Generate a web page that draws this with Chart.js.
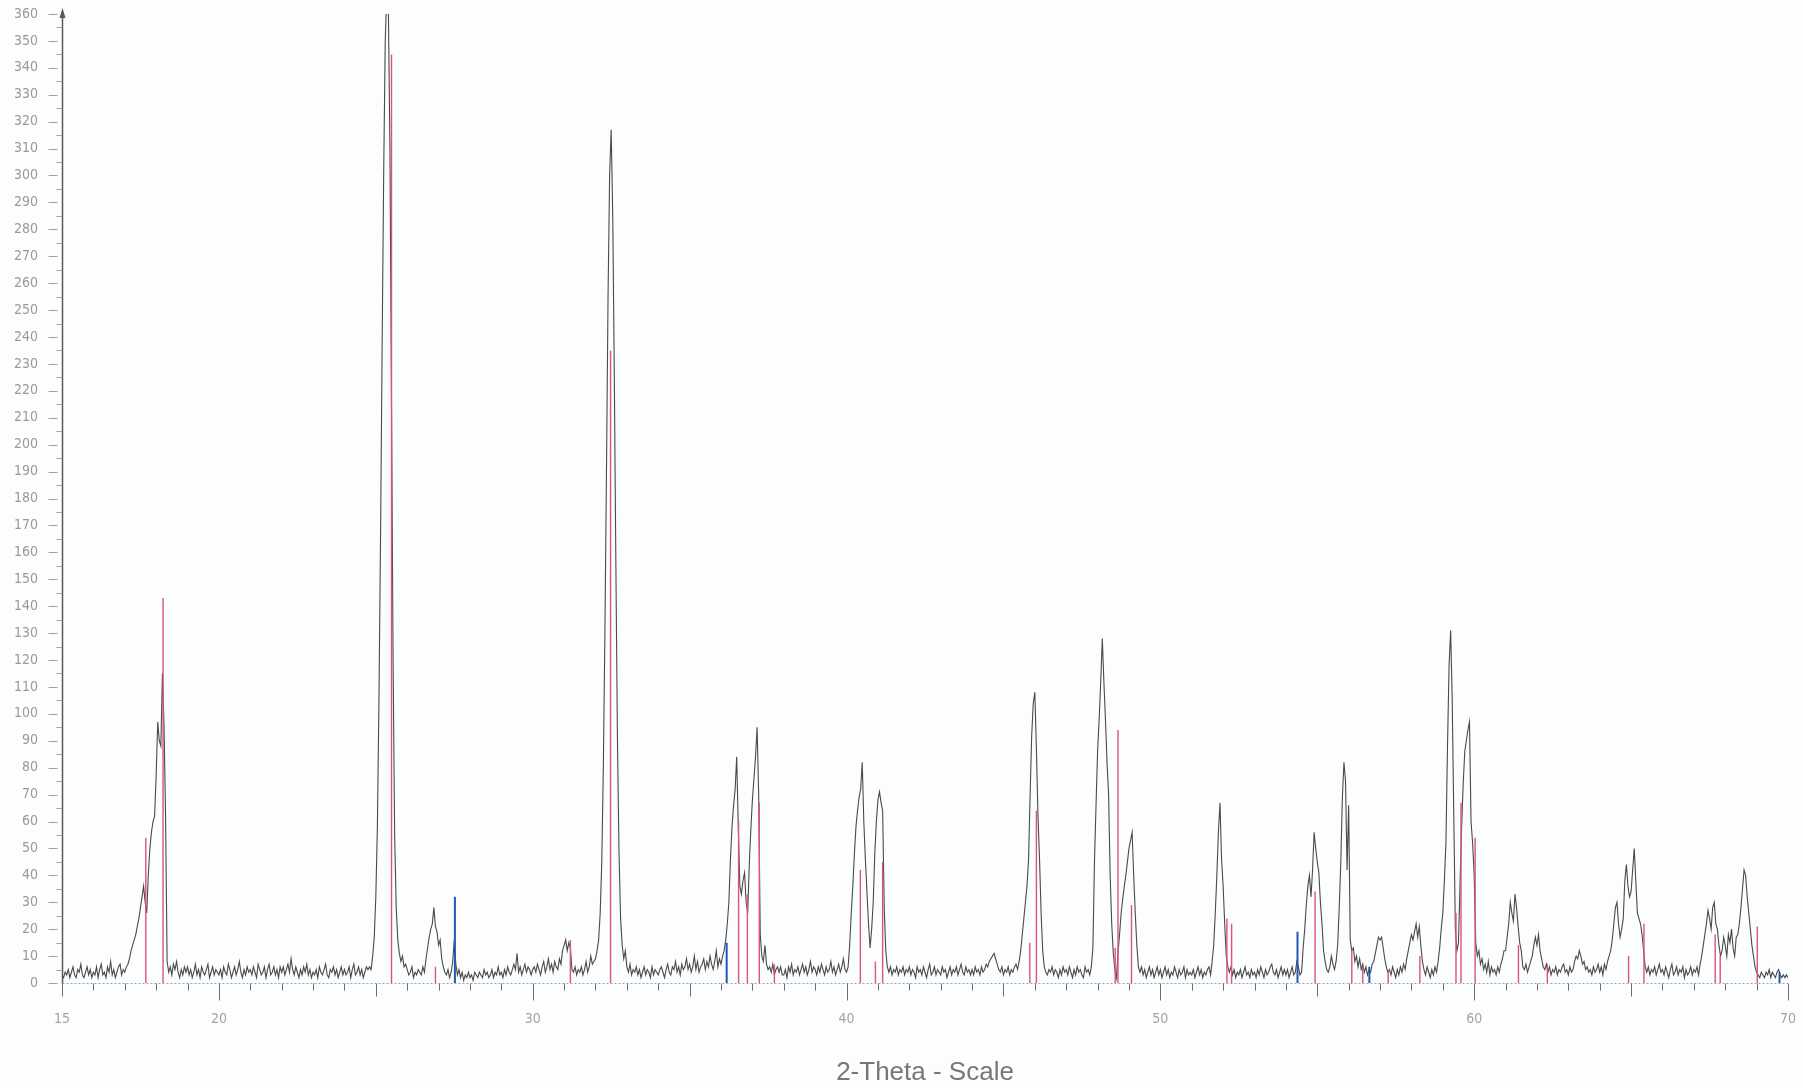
<!DOCTYPE html>
<html>
<head>
<meta charset="utf-8">
<title>XRD 2-Theta scan</title>
<script src="https://cdn.jsdelivr.net/npm/chart.js@4.4.1/dist/chart.umd.min.js"></script>
<style>
  html, body { margin: 0; padding: 0; background: #fbfdfe; }
  canvas { display: block; }
</style>
</head>
<body>
<canvas id="xrd" width="1803" height="1088"></canvas>
<script>
// scan: 15..70 deg 2-theta, 0.05 deg steps, one row per degree
const scanStart = 15;
const scanStep = 0.05;
const countRows = [
  [3,2,4,3,5,2,4,6,3,2,5,4,7,3,2,4,6,3,5,2],          // 15
  [4,3,6,2,5,7,3,4,2,6,4,8,3,5,2,4,6,7,3,5],          // 16
  [4,6,7,9,12,14,16,18,21,24,28,32,36,30,26,40,50,56,60,62],
  [77,97,90,88,115,96,62,8,4,6,3,7,5,8,4,2,5,3,6,4],
  [6,3,5,2,4,7,3,5,2,6,4,3,5,7,2,4,6,3,5,4],
  [3,5,2,6,4,3,7,5,2,4,6,3,5,8,4,2,5,3,6,4],          // 20
  [5,3,6,4,2,7,5,3,4,6,2,5,7,3,4,6,3,5,2,6],
  [4,6,3,5,7,4,9,5,3,6,4,2,5,3,6,4,7,3,5,2],
  [4,3,5,2,6,4,3,5,7,3,2,5,4,6,3,5,2,4,6,3],
  [5,3,4,6,2,5,7,3,4,6,3,5,2,4,6,5,6,5,10,17],
  [32,58,105,165,235,300,350,368,362,310,215,120,55,28,16,11,8,10,6,7], // 25
  [5,3,4,6,2,4,3,5,4,3,6,4,9,13,17,20,22,28,21,19],
  [14,16,9,6,4,3,5,2,4,8,16,7,3,5,2,4,1,3,2,4],
  [2,3,1,4,3,2,4,3,2,5,3,4,2,3,5,2,4,3,6,3],
  [4,2,5,3,6,4,3,5,7,5,11,4,6,3,5,7,4,6,5,3],
  [5,6,4,7,5,3,6,8,4,6,9,5,7,4,8,6,5,9,7,12],         // 30
  [14,16,12,15,13,5,4,6,3,5,4,6,3,5,8,4,6,10,7,8],
  [9,12,16,26,45,80,130,190,255,300,317,285,225,155,90,48,24,14,9,12],
  [6,4,7,3,5,4,6,3,5,2,4,6,3,5,4,2,6,3,5,4],
  [3,5,6,4,2,5,7,4,3,6,5,8,4,6,3,7,5,6,9,5],
  [7,4,6,10,5,8,4,6,7,9,5,8,6,10,7,5,8,12,6,9],       // 35
  [7,10,12,16,22,30,46,58,66,72,84,58,36,33,38,41,30,26,44,57],
  [68,76,84,95,70,18,10,8,14,7,5,6,4,7,3,5,6,4,6,3],
  [3,5,2,6,4,7,3,5,4,6,3,5,7,4,6,3,5,8,4,6],
  [5,3,6,4,7,5,3,6,4,5,8,4,6,3,5,7,4,6,9,5],
  [4,6,14,26,36,48,58,64,69,72,82,60,46,34,22,13,20,30,48,60], // 40
  [68,71,67,64,28,12,6,4,6,3,5,4,6,3,5,4,6,3,5,4],
  [6,3,5,4,2,6,4,5,3,6,4,2,5,7,3,4,6,3,5,4],
  [3,6,4,5,2,4,6,3,5,4,6,3,5,7,4,3,6,4,5,3],
  [5,3,6,4,5,3,6,4,5,7,6,8,9,10,11,9,7,5,4,6],
  [3,5,4,6,3,5,4,6,7,5,8,12,18,24,30,36,46,70,92,104], // 45
  [108,87,62,46,26,12,6,4,3,5,4,6,3,5,4,2,5,3,6,4],
  [5,3,6,4,2,5,3,6,4,5,3,2,6,4,5,3,6,13,45,66],
  [86,98,112,128,112,98,82,70,40,22,11,5,2,11,18,26,31,36,40,45],
  [50,53,56,40,26,14,6,4,6,3,5,2,4,6,3,5,2,4,6,3],
  [5,2,4,6,3,5,2,4,3,6,4,2,5,3,4,6,2,5,3,4],          // 50
  [3,5,2,4,6,3,5,2,4,3,5,6,3,8,14,26,40,56,67,46],
  [36,22,10,6,4,6,3,5,2,4,3,5,2,4,6,3,4,2,5,3],
  [4,2,5,3,6,4,2,5,3,4,6,7,4,3,5,2,4,6,3,5],
  [3,5,2,4,6,3,4,8,6,3,4,13,20,29,36,40,32,42,56,50],
  [45,41,30,22,12,8,5,4,6,10,7,5,8,14,28,45,69,82,75,42], // 55
  [66,16,12,13,8,10,6,9,5,7,4,6,3,5,4,7,8,11,14,17],
  [16,17,13,9,6,4,5,3,6,4,2,5,3,6,4,7,5,9,12,15],
  [18,16,19,22,17,21,14,8,5,3,6,4,2,5,3,6,4,8,13,20],
  [26,38,52,88,118,131,105,62,20,12,15,37,58,74,86,90,94,97,60,52],
  [40,15,10,12,7,9,5,7,4,8,3,6,4,5,3,6,4,7,9,12],     // 60
  [12,17,22,30,26,23,33,28,21,15,12,6,5,7,4,6,8,10,14,17],
  [14,18,12,9,6,5,7,4,6,3,5,4,6,3,5,4,6,7,4,5],
  [3,6,4,5,8,10,9,12,10,7,8,5,6,4,5,3,6,4,5,7],
  [4,6,3,7,5,8,10,12,16,22,28,30,22,17,20,24,38,44,36,32],
  [34,42,50,38,26,24,22,18,12,6,4,6,3,5,4,6,3,5,7,4], // 65
  [5,3,6,4,2,5,7,3,4,6,3,5,4,6,2,5,3,4,6,3],
  [5,4,6,3,7,10,14,18,22,27,24,20,28,30,22,20,14,10,12,17],
  [14,10,18,15,20,13,10,17,18,22,28,35,42,40,32,26,20,14,10,6],
  [4,3,2,4,3,2,4,3,5,2,4,3,2,4,5,3,2,3,2,3],
  [2]                                                 // 70
];

// reference pattern sticks (red) and second phase (blue)
const redPos = [17.67, 18.22, 25.5, 26.9, 31.2, 32.48, 36.56, 36.84, 37.22, 37.7,
  40.44, 40.92, 41.15, 45.84, 46.05, 48.56, 48.65, 49.08, 52.12, 52.27,
  54.93, 56.1, 56.45, 57.26, 58.27, 59.42, 59.58, 60.03, 61.41, 62.33,
  64.92, 65.41, 67.68, 67.84, 69.02];
const redInt = [54, 143, 345, 6, 16, 235, 60, 33, 67, 7,
  42, 8, 45, 15, 64, 13, 94, 29, 24, 22,
  34, 12, 6, 4, 10, 26, 67, 54, 14, 7,
  10, 22, 18, 10, 21];
const bluePos = [27.52, 36.18, 54.37, 56.66, 69.73];
const blueInt = [32, 15, 19, 6, 4];

const xTickLabels = [15, 20, 30, 40, 50, 60, 70];

const scanCounts = countRows.flat();
const tracePoints = scanCounts.map((c, i) => ({ x: +(scanStart + i * scanStep).toFixed(2), y: c }));

function sticks(pos, ints) {
  const pts = [];
  pos.forEach((p, i) => {
    pts.push({ x: p, y: 0 }, { x: p, y: ints[i] }, { x: p, y: null });
  });
  return pts;
}

// axis lines and tick marks like the diffractometer printout
const axisPainter = {
  id: 'axisPainter',
  afterDraw(chart) {
    const { ctx, scales: { x, y } } = chart;
    const x0 = Math.round(x.getPixelForValue(15)) + 0.5;
    const x1 = x.getPixelForValue(70);
    const y0 = Math.round(y.getPixelForValue(0)) + 0.5;
    const yTop = y.getPixelForValue(360);
    ctx.save();

    ctx.strokeStyle = '#9aa3aa';
    ctx.lineWidth = 1;
    ctx.setLineDash([2, 2]);
    ctx.beginPath();
    ctx.moveTo(x0, y0);
    ctx.lineTo(x1, y0);
    ctx.stroke();
    ctx.setLineDash([]);

    ctx.strokeStyle = '#6e6e6e';
    for (let v = 15; v <= 70; v++) {
      const len = v % 10 === 0 ? 17 : (v % 5 === 0 ? 13 : 7);
      const px = Math.round(x.getPixelForValue(v)) + 0.5;
      ctx.beginPath();
      ctx.moveTo(px, y0);
      ctx.lineTo(px, y0 + len);
      ctx.stroke();
    }

    ctx.strokeStyle = '#a0a0a0';
    for (let v = 0; v <= 360; v += 5) {
      const py = Math.round(y.getPixelForValue(v)) + 0.5;
      ctx.beginPath();
      if (v % 10 === 0) {
        ctx.moveTo(x0 - 14, py);
        ctx.lineTo(x0 - 5, py);
      } else {
        ctx.moveTo(x0 - 6, py);
        ctx.lineTo(x0 - 1, py);
      }
      ctx.stroke();
    }

    ctx.strokeStyle = '#5a5a5a';
    ctx.lineWidth = 1.5;
    ctx.beginPath();
    ctx.moveTo(x0, y0);
    ctx.lineTo(x0, yTop - 2);
    ctx.stroke();
    ctx.fillStyle = '#5a5a5a';
    ctx.beginPath();
    ctx.moveTo(x0, yTop - 6);
    ctx.lineTo(x0 - 3, yTop + 4);
    ctx.lineTo(x0 + 3, yTop + 4);
    ctx.closePath();
    ctx.fill();
    ctx.restore();
  }
};

const tickFont = { family: "'Liberation Sans Narrow', 'DejaVu Sans Condensed', sans-serif", size: 14 };

const ctx = document.getElementById('xrd').getContext('2d');
const xrdChart = new Chart(ctx, {
  type: 'line',
  data: {
    datasets: [
      { data: sticks(redPos, redInt), borderColor: '#e0517d', borderWidth: 1.4, pointRadius: 0, spanGaps: false },
      { data: sticks(bluePos, blueInt), borderColor: '#2458b0', borderWidth: 2, pointRadius: 0, spanGaps: false },
      { data: tracePoints, borderColor: '#4a4a4a', borderWidth: 1.1, pointRadius: 0, tension: 0 }
    ]
  },
  options: {
    responsive: false,
    animation: false,
    devicePixelRatio: 1,
    layout: { padding: { top: 14, right: 15, left: 0, bottom: 0 } },
    plugins: { legend: { display: false }, tooltip: { enabled: false } },
    scales: {
      x: {
        type: 'linear',
        min: 15,
        max: 70,
        border: { display: false },
        grid: { display: false, drawTicks: false },
        ticks: {
          stepSize: 1,
          autoSkip: false,
          maxRotation: 0,
          padding: 28,
          color: '#a3a3a3',
          font: tickFont,
          callback: (v) => xTickLabels.includes(Math.round(v)) ? String(Math.round(v)) : ''
        },
        title: {
          display: true,
          text: '2-Theta - Scale',
          color: '#777777',
          font: { family: "'Liberation Sans', Arial, sans-serif", size: 26 },
          padding: 0
        },
        afterFit: (s) => {
          s.height = 105;
          s.paddingLeft = 0;
          s.paddingRight = 0;
        }
      },
      y: {
        min: 0,
        max: 360,
        border: { display: false },
        grid: { display: false, drawTicks: false },
        ticks: {
          stepSize: 10,
          autoSkip: false,
          padding: 24,
          color: '#999999',
          font: tickFont
        },
        afterFit: (s) => {
          s.width = 62;
          s.paddingTop = 0;
          s.paddingBottom = 0;
        }
      }
    }
  },
  plugins: [axisPainter]
});
</script>
</body>
</html>
